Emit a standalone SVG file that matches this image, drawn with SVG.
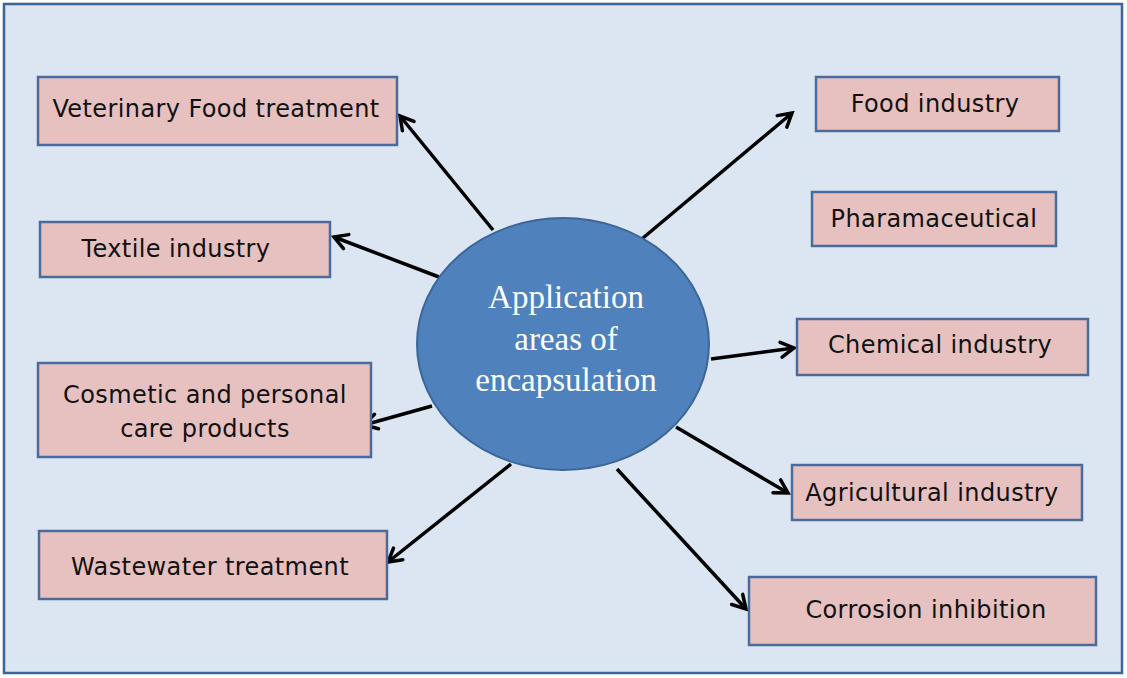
<svg xmlns="http://www.w3.org/2000/svg" width="1127" height="678" viewBox="0 0 1127 678">
  <defs>
    <style>
      .box { fill: #e6c1c0; stroke: #4a6b9c; stroke-width: 2.5; }
      .lbl { font-family: "DejaVu Sans", Verdana, sans-serif; font-size: 24px; letter-spacing: 0.4px; fill: #111; text-anchor: middle; }
      .ctr { font-family: "Liberation Serif", "Times New Roman", serif; font-size: 33px; fill: #ffffff; text-anchor: middle; }
      .arr { stroke: #000; stroke-width: 3.5; fill: none; marker-end: url(#ah); }
    </style>
    <marker id="ah" markerUnits="userSpaceOnUse" markerWidth="20" markerHeight="20" viewBox="-16 -10 20 20" refX="0" refY="0" orient="auto">
      <path d="M-13,-7.5 L0,0 L-13,7.5" fill="none" stroke="#000" stroke-width="3.5" stroke-linecap="round" stroke-linejoin="miter"/>
    </marker>
  </defs>

  <rect id="frame" x="4" y="4" width="1118" height="669" fill="#dce6f2" stroke="#3f6393" stroke-width="2.5"/>

  <g id="connectors">
    <line class="arr" x1="493" y1="230" x2="400" y2="116"/>
    <line class="arr" x1="439" y1="277" x2="334" y2="237"/>
    <line class="arr" x1="432" y1="406" x2="364" y2="425"/>
    <line class="arr" x1="511" y1="464" x2="388" y2="562"/>
    <line class="arr" x1="637" y1="243" x2="792" y2="113"/>
    <line class="arr" x1="711" y1="359" x2="794" y2="348"/>
    <line class="arr" x1="676" y1="427" x2="788" y2="493"/>
    <line class="arr" x1="617" y1="469" x2="746" y2="609"/>
  </g>

  <g id="center">
    <ellipse cx="563" cy="344" rx="146" ry="126" fill="#4f81bd" stroke="#3d6597" stroke-width="2"/>
    <text class="ctr" x="566" y="308">Application</text>
    <text class="ctr" x="566" y="350">areas of</text>
    <text class="ctr" x="566" y="391">encapsulation</text>
  </g>

  <g id="veterinary">
    <rect class="box" x="38" y="77" width="359" height="68"/>
    <text class="lbl" x="216" y="117">Veterinary Food treatment</text>
  </g>
  <g id="textile">
    <rect class="box" x="40" y="222" width="290" height="55"/>
    <text class="lbl" x="176" y="257">Textile industry</text>
  </g>
  <g id="cosmetic">
    <rect class="box" x="38" y="363" width="333" height="94"/>
    <text class="lbl" x="205" y="403">Cosmetic and personal</text>
    <text class="lbl" x="205" y="437">care products</text>
  </g>
  <g id="wastewater">
    <rect class="box" x="39" y="531" width="348" height="68"/>
    <text class="lbl" x="210" y="575">Wastewater treatment</text>
  </g>
  <g id="food">
    <rect class="box" x="816" y="77" width="243" height="54"/>
    <text class="lbl" x="935" y="112">Food industry</text>
  </g>
  <g id="pharmaceutical">
    <rect class="box" x="812" y="192" width="244" height="54"/>
    <text class="lbl" x="934" y="227">Pharamaceutical</text>
  </g>
  <g id="chemical">
    <rect class="box" x="797" y="319" width="291" height="56"/>
    <text class="lbl" x="940" y="353">Chemical industry</text>
  </g>
  <g id="agricultural">
    <rect class="box" x="792" y="465" width="290" height="55"/>
    <text class="lbl" x="932" y="501">Agricultural industry</text>
  </g>
  <g id="corrosion">
    <rect class="box" x="749" y="577" width="347" height="68"/>
    <text class="lbl" x="926" y="618">Corrosion inhibition</text>
  </g>
</svg>
